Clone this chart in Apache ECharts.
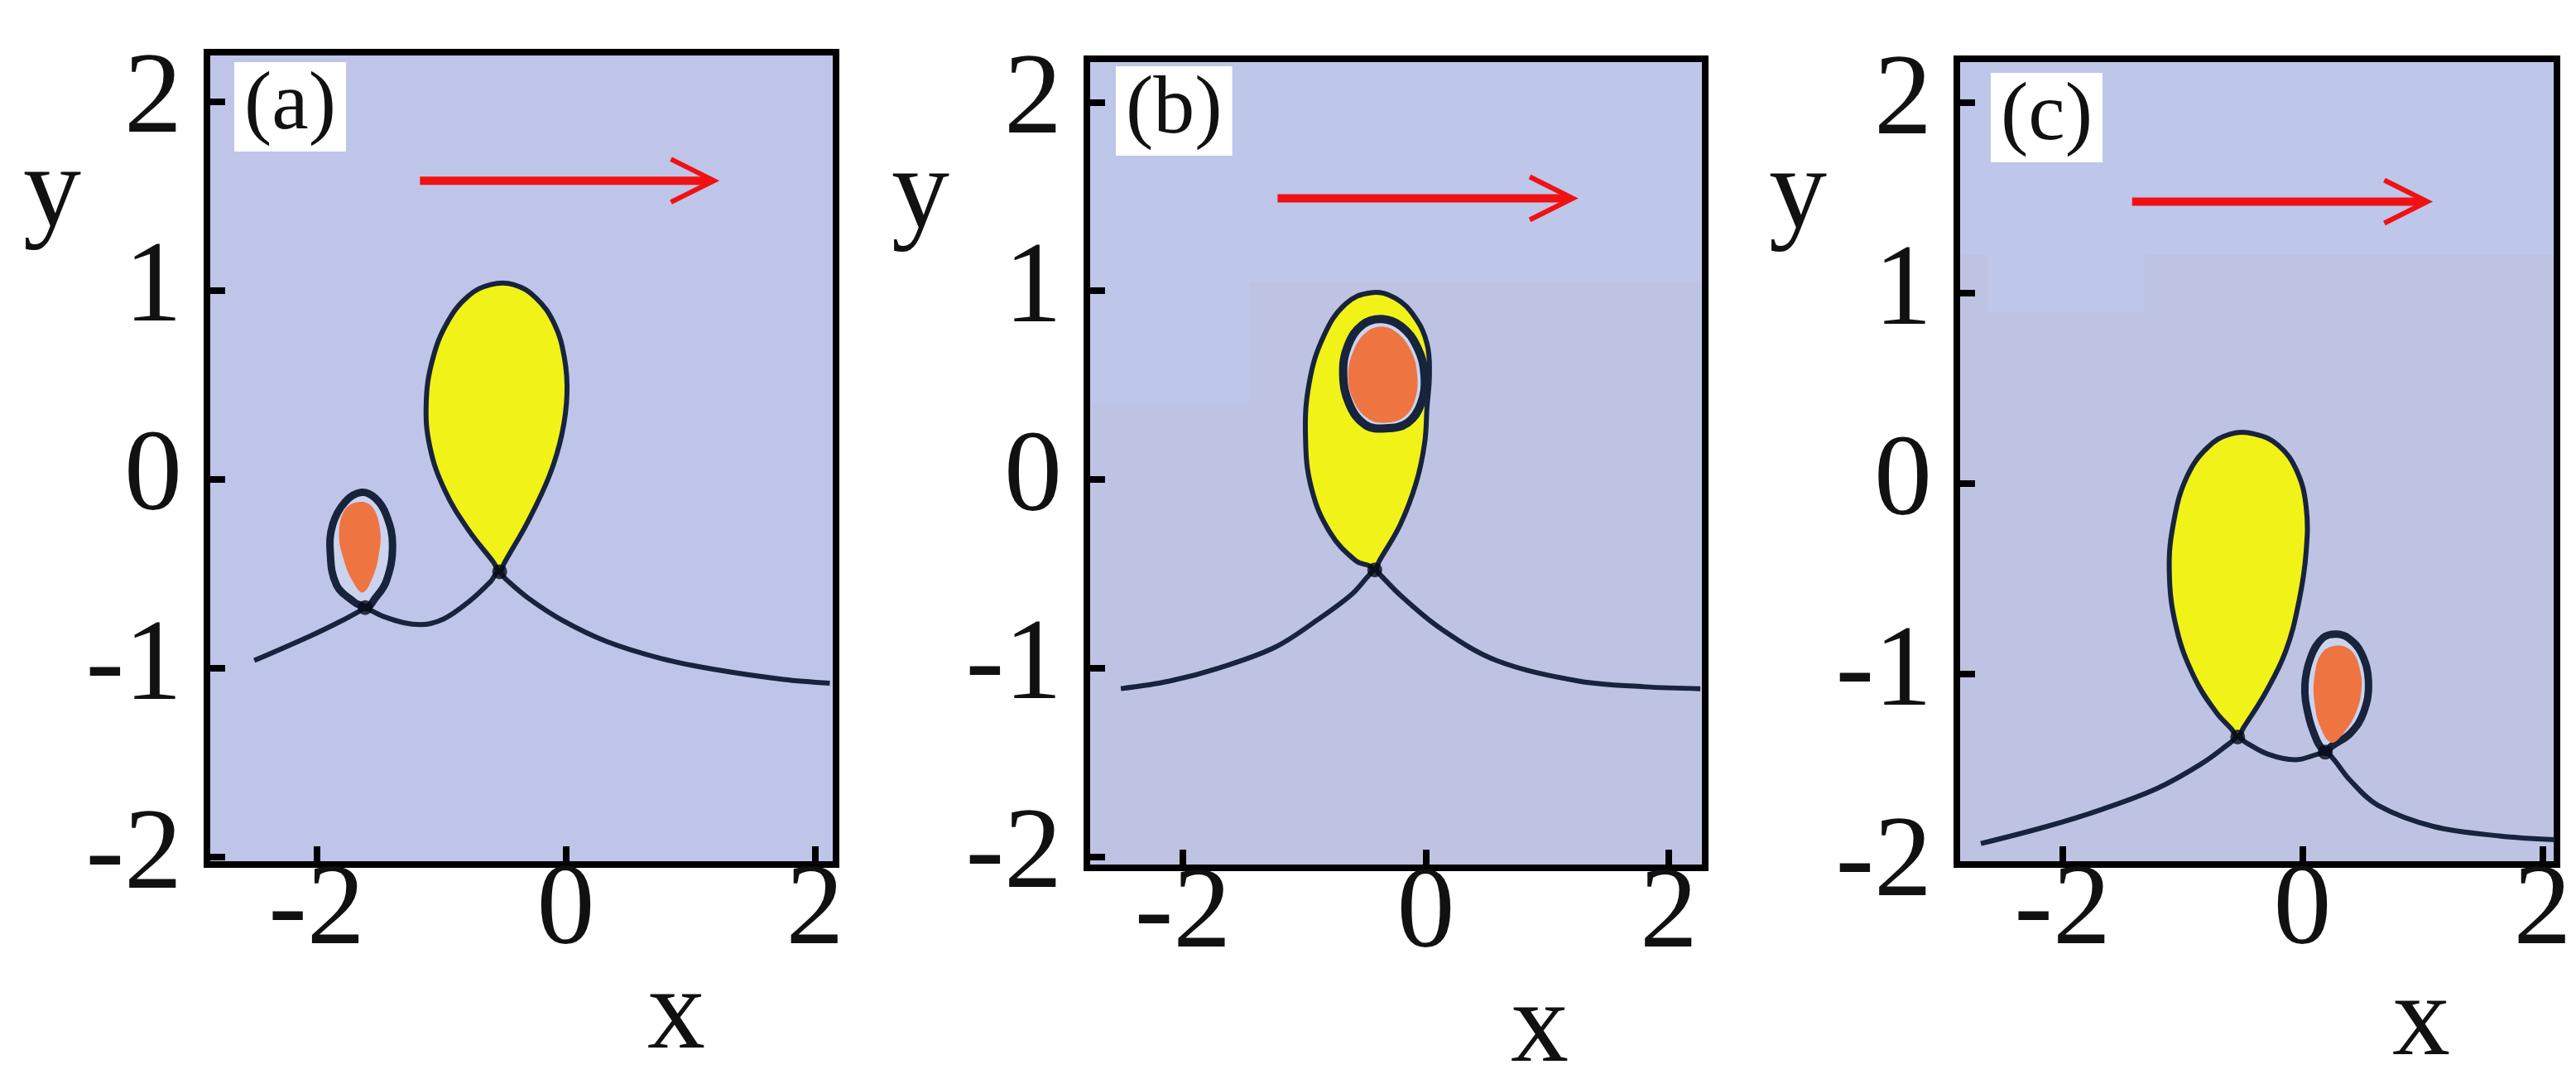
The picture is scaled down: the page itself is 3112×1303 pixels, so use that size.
<!DOCTYPE html>
<html>
<head>
<meta charset="utf-8">
<script src="https://cdn.jsdelivr.net/npm/echarts@6/dist/echarts.min.js"></script>
<style>
  html, body { margin: 0; padding: 0; background: #fff; }
  #chart { width: 3112px; height: 1303px; }
</style>
</head>
<body>
<div id="chart"></div>
<script>
// tick values shared by all three panels
const xTicks = [-2, 0, 2];
const yTicks = [-2, -1, 0, 1, 2];
const panelNames = ['(a)', '(b)', '(c)'];

// panel (a): baseline curve, big (yellow) loop, small (orange) loop
const curveA = [[-2.50,-0.96],[-2.05,-0.83],[-1.80,-0.75],[-1.66,-0.70],[-1.61,-0.68],[-1.55,-0.70],[-1.45,-0.73],
  [-1.30,-0.76],[-1.17,-0.77],[-0.98,-0.74],[-0.78,-0.65],[-0.60,-0.54],[-0.54,-0.49],[-0.48,-0.53],[-0.30,-0.63],
  [-0.02,-0.75],[0.33,-0.86],[0.77,-0.95],[1.22,-1.01],[1.75,-1.06],[2.12,-1.08]];
const loopA = [[-0.53,-0.49],[-0.49,-0.44],[-0.30,-0.22],[-0.13,0.02],[-0.03,0.24],[0.01,0.45],[-0.01,0.64],
  [-0.09,0.82],[-0.24,0.96],[-0.42,1.03],[-0.60,1.03],[-0.78,0.97],[-0.95,0.83],[-1.07,0.63],[-1.12,0.40],
  [-1.09,0.17],[-0.97,-0.06],[-0.78,-0.27],[-0.58,-0.44]];
const dropA = [[-1.59,-0.68],[-1.54,-0.64],[-1.44,-0.54],[-1.39,-0.35],[-1.44,-0.19],[-1.53,-0.10],[-1.64,-0.07],
  [-1.77,-0.12],[-1.87,-0.24],[-1.89,-0.39],[-1.84,-0.56],[-1.70,-0.65],[-1.64,-0.67]];
const coreA = [[-1.65,-0.12],[-1.55,-0.15],[-1.49,-0.27],[-1.50,-0.40],[-1.55,-0.52],[-1.63,-0.60],[-1.71,-0.54],
  [-1.78,-0.43],[-1.82,-0.29],[-1.77,-0.16]];
const nodesA = [[-1.61,-0.68],[-0.53,-0.49]];
const arrowA = [[-1.17,1.58],[1.19,1.58]];
const patchesA = [];

// panel (b): the orange ring sits inside the yellow loop
const curveB = [[-2.51,-1.11],[-2.11,-1.07],[-1.70,-1.00],[-1.24,-0.89],[-0.88,-0.74],[-0.61,-0.61],[-0.47,-0.51],
  [-0.42,-0.48],[-0.37,-0.51],[-0.20,-0.62],[0.12,-0.79],[0.58,-0.96],[1.26,-1.07],[1.80,-1.10],[2.26,-1.11]];
const loopB = [[-0.42,-0.48],[-0.38,-0.43],[-0.21,-0.24],[-0.08,-0.02],[-0.01,0.19],[0.01,0.38],[0.03,0.56],
  [0.01,0.72],[-0.09,0.86],[-0.25,0.96],[-0.45,0.99],[-0.66,0.93],[-0.84,0.76],[-0.96,0.51],[-0.99,0.22],
  [-0.94,-0.05],[-0.79,-0.28],[-0.58,-0.43],[-0.46,-0.46]];
const dropB = [[-0.36,0.85],[-0.20,0.81],[-0.07,0.70],[-0.01,0.55],[-0.04,0.40],[-0.15,0.30],[-0.33,0.27],
  [-0.50,0.29],[-0.63,0.40],[-0.68,0.56],[-0.64,0.71],[-0.52,0.82]];
const coreB = [[-0.37,0.81],[-0.24,0.78],[-0.12,0.68],[-0.07,0.55],[-0.09,0.42],[-0.18,0.33],[-0.33,0.30],
  [-0.47,0.32],[-0.59,0.41],[-0.64,0.55],[-0.59,0.69],[-0.49,0.78]];
const nodesB = [[-0.42,-0.48]];
const arrowB = [[-1.22,1.49],[1.21,1.49]];
const patchesB = [[[-2.79, 1.05], [2.30, 2.23]], [[-2.79, 0.40], [-1.45, 1.05]]];

// panel (c): orange loop has moved to the right of the yellow one
const curveC = [[-2.68,-1.89],[-2.13,-1.80],[-1.67,-1.71],[-1.21,-1.60],[-0.84,-1.47],[-0.60,-1.36],[-0.54,-1.33],
  [-0.47,-1.36],[-0.29,-1.42],[-0.06,-1.45],[0.13,-1.42],[0.19,-1.41],[0.25,-1.44],[0.40,-1.56],[0.63,-1.69],
  [1.09,-1.80],[1.64,-1.85],[2.10,-1.87]];
const loopC = [[-0.54,-1.33],[-0.49,-1.28],[-0.31,-1.10],[-0.14,-0.88],[-0.03,-0.62],[0.03,-0.36],[0.03,-0.12],
  [-0.05,0.07],[-0.20,0.20],[-0.40,0.26],[-0.60,0.26],[-0.79,0.19],[-0.96,0.04],[-1.07,-0.19],[-1.11,-0.46],
  [-1.05,-0.76],[-0.90,-1.02],[-0.72,-1.20],[-0.59,-1.29]];
const dropC = [[0.19,-1.41],[0.24,-1.38],[0.40,-1.31],[0.51,-1.20],[0.55,-1.04],[0.49,-0.89],[0.38,-0.81],
  [0.28,-0.79],[0.17,-0.81],[0.07,-0.91],[0.02,-1.06],[0.05,-1.22],[0.12,-1.35],[0.16,-1.39]];
const coreC = [[0.29,-0.85],[0.41,-0.88],[0.48,-0.98],[0.49,-1.09],[0.44,-1.21],[0.33,-1.32],[0.24,-1.36],
  [0.15,-1.28],[0.10,-1.15],[0.10,-1.01],[0.16,-0.89]];
const nodesC = [[-0.54,-1.33],[0.19,-1.41]];
const arrowC = [[-1.42,1.48],[1.04,1.48]];
const patchesC = [[[-2.88, 1.20], [2.12, 2.23]], [[-2.62, 0.90], [-1.32, 1.20]]];

const FONT = "'Liberation Serif', 'DejaVu Serif', serif";
const BG_A = '#bfc5e9';
const BG_LOW = '#bfc3e3';
const BG_LIGHT = '#bec6ea';
const INK = '#18233d';
const YELLOW = '#f1f218';
const ORANGE = '#ee7542';
const RED = '#f01212';

const panels = [
  { grid: { left: 250, top: 63, width: 760, height: 981 }, x: [-2.88, 2.17], y: [-2.04, 2.26], bg: BG_A,
    curve: curveA, loop: loopA, drop: dropA, core: coreA, nodes: nodesA, arrow: arrowA, patches: patchesA, dropW: 9 },
  { grid: { left: 1313, top: 71, width: 747, height: 977 }, x: [-2.79, 2.30], y: [-2.06, 2.23], bg: BG_LOW,
    curve: curveB, loop: loopB, drop: dropB, core: coreB, nodes: nodesB, arrow: arrowB, patches: patchesB, dropW: 10 },
  { grid: { left: 2364, top: 71, width: 725, height: 973 }, x: [-2.88, 2.12], y: [-2.00, 2.23], bg: BG_LOW,
    curve: curveC, loop: loopC, drop: dropC, core: coreC, nodes: nodesC, arrow: arrowC, patches: patchesC, dropW: 9 }
];

// closed shape drawn through the axis scales
function shape(i, pts, style, z) {
  return {
    type: 'custom', xAxisIndex: i, yAxisIndex: i, data: pts, z: z, silent: true, clip: true,
    renderItem: function (params, api) {
      if (params.dataIndex !== 0) return;
      return {
        type: 'polygon',
        shape: { points: pts.map(function (p) { return api.coord(p); }), smooth: 0.4 },
        style: style
      };
    }
  };
}

// lighter background patches, kept clear of the frame
function patches(i, rects) {
  return {
    type: 'custom', xAxisIndex: i, yAxisIndex: i, data: rects.length ? [0] : [], z: 1, silent: true,
    renderItem: function (params, api) {
      const cs = params.coordSys;
      return {
        type: 'group',
        children: rects.map(function (r) {
          const a = api.coord(r[0]), b = api.coord(r[1]);
          const x0 = Math.max(Math.min(a[0], b[0]), cs.x + 4);
          const x1 = Math.min(Math.max(a[0], b[0]), cs.x + cs.width - 4);
          const y0 = Math.max(Math.min(a[1], b[1]), cs.y + 4);
          const y1 = Math.min(Math.max(a[1], b[1]), cs.y + cs.height - 4);
          return { type: 'rect', shape: { x: x0, y: y0, width: x1 - x0, height: y1 - y0 }, style: { fill: BG_LIGHT } };
        })
      };
    }
  };
}

function arrow(i, pts) {
  return {
    type: 'custom', xAxisIndex: i, yAxisIndex: i, data: pts, z: 6, silent: true,
    renderItem: function (params, api) {
      if (params.dataIndex !== 0) return;
      const s = api.coord(pts[0]);
      const e = api.coord(pts[1]);
      return {
        type: 'group',
        children: [
          { type: 'line', shape: { x1: s[0], y1: s[1], x2: e[0] - 4, y2: e[1] },
            style: { stroke: RED, lineWidth: 10 } },
          { type: 'polyline', shape: { points: [[e[0] - 52, e[1] - 26], [e[0], e[1]], [e[0] - 52, e[1] + 26]] },
            style: { stroke: RED, lineWidth: 6, fill: null } }
        ]
      };
    }
  };
}

const grids = [], xAxes = [], yAxes = [], series = [], titles = [];
panels.forEach(function (p, i) {
  grids.push(Object.assign({ show: true, backgroundColor: p.bg, borderColor: '#000', borderWidth: 8 }, p.grid));
  xAxes.push({
    type: 'value', gridIndex: i, min: p.x[0], max: p.x[1], z: 10,
    axisLine: { show: true, onZero: false, lineStyle: { color: '#000', width: 8 } },
    axisTick: { show: true, inside: true, length: 22, customValues: xTicks, lineStyle: { color: '#000', width: 8 } },
    axisLabel: { customValues: xTicks, margin: -12, fontSize: 140, fontFamily: FONT, color: '#111' },
    splitLine: { show: false }
  });
  yAxes.push({
    type: 'value', gridIndex: i, min: p.y[0], max: p.y[1], z: 10,
    axisLine: { show: true, onZero: false, lineStyle: { color: '#000', width: 8 } },
    axisTick: { show: true, inside: true, length: 22, customValues: yTicks, lineStyle: { color: '#000', width: 8 } },
    axisLabel: { customValues: yTicks, margin: 30, fontSize: 140, fontFamily: FONT, color: '#111' },
    splitLine: { show: false }
  });
  series.push(patches(i, p.patches));
  series.push(shape(i, p.loop, { fill: YELLOW, stroke: INK, lineWidth: 6 }, 2));
  series.push(shape(i, p.drop, { fill: '#cbd3ef', stroke: INK, lineWidth: p.dropW }, 3));
  series.push(shape(i, p.core, { fill: ORANGE }, 4));
  series.push({
    type: 'line', xAxisIndex: i, yAxisIndex: i, data: p.curve, smooth: 0.35, showSymbol: false, z: 3,
    lineStyle: { color: INK, width: 6 }, silent: true
  });
  series.push({
    type: 'scatter', xAxisIndex: i, yAxisIndex: i, data: p.nodes, symbol: 'circle', symbolSize: 18, z: 5,
    itemStyle: { color: '#060a16' }, silent: true
  });
  series.push(arrow(i, p.arrow));
});

// panel letters in white boxes
const labelBoxes = [[283, 75], [1348, 80], [2405, 88]];
panelNames.forEach(function (t, i) {
  titles.push({
    text: t, left: labelBoxes[i][0], top: labelBoxes[i][1], backgroundColor: '#fff', padding: [4, 12, 4, 12],
    textStyle: { fontSize: 100, lineHeight: 100, fontFamily: FONT, fontWeight: 'normal', color: '#111' }
  });
});

// axis names
const nameSpots = [
  { t: 'y', x: 63, y: 235 }, { t: 'x', x: 817, y: 1228 },
  { t: 'y', x: 1112, y: 237 }, { t: 'x', x: 1860, y: 1244 },
  { t: 'y', x: 2172, y: 237 }, { t: 'x', x: 2925, y: 1236 }
];
const graphic = nameSpots.map(function (n) {
  return {
    type: 'text', x: n.x, y: n.y,
    style: { text: n.t, fontSize: 140, fontFamily: FONT, fill: '#111', align: 'center', verticalAlign: 'middle' }
  };
});

const chart = echarts.init(document.getElementById('chart'), null, { renderer: 'canvas' });
chart.setOption({
  animation: false,
  backgroundColor: '#fff',
  title: titles,
  grid: grids,
  xAxis: xAxes,
  yAxis: yAxes,
  series: series,
  graphic: graphic
});
</script>
</body>
</html>
